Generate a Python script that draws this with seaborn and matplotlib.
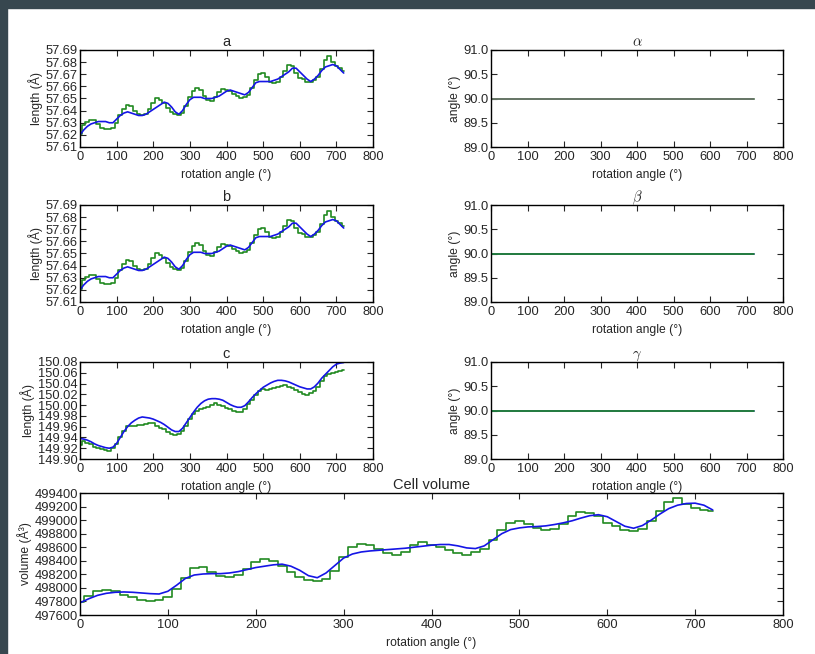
import numpy as np
import pandas as pd
import matplotlib
matplotlib.use("Agg")
import matplotlib.pyplot as plt
import seaborn as sns
from matplotlib.patches import Rectangle

# rotation angle grid (deg)
angle = list(range(0, 721, 10))

# a and b lengths (identical in the reference)
a_fit = [57.620, 57.624, 57.627, 57.629, 57.630, 57.631, 57.631, 57.631, 57.630, 57.630,
         57.633, 57.636, 57.638, 57.639, 57.638, 57.637, 57.636, 57.636, 57.637, 57.639,
         57.641, 57.643, 57.645, 57.647, 57.646, 57.643, 57.639, 57.637, 57.640, 57.645,
         57.649, 57.651, 57.651, 57.651, 57.650, 57.650, 57.650, 57.651, 57.652, 57.654,
         57.656, 57.657, 57.656, 57.655, 57.654, 57.653, 57.655, 57.659, 57.663, 57.664,
         57.664, 57.664, 57.664, 57.665, 57.666, 57.668, 57.670, 57.672, 57.675, 57.675,
         57.672, 57.669, 57.666, 57.664, 57.666, 57.669, 57.673, 57.676, 57.677, 57.678,
         57.677, 57.674, 57.671]
a_raw = [57.621, 57.628, 57.631, 57.632, 57.632, 57.629, 57.626, 57.625, 57.625, 57.626,
         57.630, 57.636, 57.641, 57.645, 57.644, 57.640, 57.637, 57.636, 57.637, 57.641,
         57.646, 57.650, 57.649, 57.646, 57.642, 57.639, 57.637, 57.636, 57.638, 57.644,
         57.651, 57.656, 57.659, 57.657, 57.652, 57.649, 57.648, 57.651, 57.655, 57.658,
         57.657, 57.656, 57.654, 57.652, 57.650, 57.651, 57.653, 57.659, 57.665, 57.670,
         57.671, 57.668, 57.664, 57.663, 57.664, 57.668, 57.673, 57.678, 57.677, 57.671,
         57.667, 57.666, 57.664, 57.664, 57.665, 57.668, 57.674, 57.682, 57.685, 57.680,
         57.677, 57.675, 57.673]

c_fit = [149.938, 149.937, 149.935, 149.932, 149.928, 149.925, 149.923, 149.921, 149.920, 149.922,
         149.929, 149.940, 149.951, 149.960, 149.967, 149.972, 149.976, 149.978, 149.977, 149.976,
         149.974, 149.971, 149.968, 149.964, 149.959, 149.954, 149.951, 149.951, 149.957, 149.967,
         149.977, 149.987, 149.996, 150.003, 150.008, 150.011, 150.012, 150.012, 150.011, 150.009,
         150.005, 150.001, 149.998, 149.996, 149.996, 149.999, 150.006, 150.014, 150.021, 150.027,
         150.033, 150.037, 150.041, 150.044, 150.046, 150.046, 150.045, 150.043, 150.040, 150.037,
         150.034, 150.032, 150.030, 150.030, 150.034, 150.041, 150.050, 150.057, 150.064, 150.071,
         150.076, 150.078, 150.079]
c_raw = [149.926, 149.933, 149.930, 149.927, 149.922, 149.920, 149.918, 149.917, 149.914, 149.920,
         149.928, 149.940, 149.952, 149.961, 149.962, 149.962, 149.963, 149.964, 149.965, 149.967,
         149.966, 149.962, 149.958, 149.955, 149.950, 149.946, 149.944, 149.946, 149.952, 149.962,
         149.975, 149.984, 149.990, 149.993, 149.995, 149.997, 150.000, 150.004, 150.001, 149.998,
         149.994, 149.993, 149.990, 149.987, 149.988, 149.993, 150.002, 150.010, 150.018, 150.026,
         150.029, 150.028, 150.030, 150.032, 150.034, 150.036, 150.038, 150.034, 150.032, 150.028,
         150.024, 150.021, 150.019, 150.022, 150.026, 150.034, 150.045, 150.054, 150.058, 150.060,
         150.062, 150.064, 150.065]

vol_fit = [497780, 497840, 497890, 497920, 497935, 497940, 497935, 497925, 497915, 497910,
           497950, 498040, 498140, 498190, 498205, 498210, 498210, 498220, 498240, 498270,
           498300, 498320, 498340, 498350, 498320, 498260, 498180, 498150, 498220, 498330,
           498440, 498500, 498530, 498545, 498555, 498565, 498575, 498585, 498600, 498615,
           498630, 498640, 498640, 498620, 498590, 498580, 498620, 498710, 498800, 498860,
           498885, 498900, 498905, 498915, 498935, 498960, 498990, 499030, 499065, 499080,
           499050, 498980, 498910, 498880, 498920, 499000, 499090, 499170, 499220, 499245,
           499250, 499220, 499150]
vol_raw = [497790, 497880, 497950, 497970, 497950, 497900, 497860, 497820, 497800, 497820,
           497860, 497980, 498150, 498300, 498310, 498240, 498180, 498160, 498190, 498280,
           498380, 498420, 498390, 498320, 498230, 498160, 498110, 498100, 498130, 498250,
           498450, 498600, 498650, 498640, 498570, 498510, 498490, 498530, 498640, 498670,
           498640, 498600, 498560, 498510, 498480, 498530, 498580, 498700, 498850, 498960,
           498990, 498950, 498880, 498850, 498870, 498950, 499060, 499120, 499110, 499060,
           498960, 498910, 498850, 498840, 498870, 498980, 499130, 499260, 499330, 499240,
           499180, 499150, 499140]

# cell angles stay at 90 deg
ang_val = [90.0] * len(angle)

sns.set_style("ticks", {"xtick.direction": "in", "ytick.direction": "in",
                        "axes.edgecolor": "black"})
plt.rcParams["font.family"] = ["Liberation Sans", "DejaVu Sans"]
plt.rcParams["mathtext.fontset"] = "cm"

fig = plt.figure(figsize=(8.15, 6.54), dpi=100)

# dark frame of the screenshot (top and left strips)
fig.add_artist(Rectangle((0, 1 - 8 / 654), 1, 8 / 654, transform=fig.transFigure,
                         color="#37474f", zorder=0))
fig.add_artist(Rectangle((0, 0), 7 / 815, 1, transform=fig.transFigure,
                         color="#37474f", zorder=0))

green = "#218a21"
blue = "#1515e6"
xlab = "rotation angle (°)"


def style(ax, title, ylabel, ylim, yticks, fmt):
    ax.set_xlim(0, 800)
    ax.set_xticks(range(0, 801, 100))
    ax.set_ylim(*ylim)
    ax.set_yticks(yticks)
    ax.set_yticklabels([fmt.format(v) for v in yticks])
    ax.tick_params(top=True, right=True, labelsize=9.3, length=4, width=0.8, pad=1.5)
    ax.tick_params(axis="x", pad=3)
    ax.set_title(title, fontsize=10.5, pad=3)
    ax.set_xlabel(xlab, fontsize=8.7, labelpad=4)
    ax.set_ylabel(ylabel, fontsize=8.7, labelpad=2)
    for s in ax.spines.values():
        s.set_linewidth(1.0)


def pair(ax, raw, fit):
    df = pd.DataFrame({"angle": angle, "raw": raw, "fit": fit})
    sns.lineplot(data=df, x="angle", y="raw", ax=ax, color=green, lw=1.2,
                 drawstyle="steps-mid")
    sns.lineplot(data=df, x="angle", y="fit", ax=ax, color=blue, lw=1.2)


W, H = 815, 654
def box(l, r, t, b):
    return [l / W, 1 - b / H, (r - l) / W, (b - t) / H]

len_ticks = [57.61 + 0.01 * i for i in range(9)]
c_ticks = [149.90 + 0.02 * i for i in range(10)]
ang_ticks = [89.0, 89.5, 90.0, 90.5, 91.0]
vol_ticks = list(range(497600, 499401, 200))

rows = [(50, 147), (205, 302), (362, 459)]
left_data = [("a", a_raw, a_fit, (57.61, 57.69), len_ticks, "{:.2f}"),
             ("b", a_raw, a_fit, (57.61, 57.69), len_ticks, "{:.2f}"),
             ("c", c_raw, c_fit, (149.90, 150.08), c_ticks, "{:.2f}")]
right_titles = [r"$\alpha$", r"$\beta$", r"$\gamma$"]

for i, (t, b) in enumerate(rows):
    title, raw, fit, ylim, yt, fmt = left_data[i]
    ax = fig.add_axes(box(80, 373, t, b))
    pair(ax, raw, fit)
    style(ax, title, "length (Å)", ylim, yt, fmt)

    ax2 = fig.add_axes(box(491, 783, t, b))
    df = pd.DataFrame({"angle": angle, "val": ang_val})
    if i == 0:
        sns.lineplot(data=df, x="angle", y="val", ax=ax2, color=green, lw=1.2)
        sns.lineplot(data=df, x="angle", y="val", ax=ax2, color="#707070", lw=1.2)
    else:
        sns.lineplot(data=df, x="angle", y="val", ax=ax2, color=blue, lw=1.2)
        sns.lineplot(data=df, x="angle", y="val", ax=ax2, color=green, lw=1.2)
    style(ax2, right_titles[i], "angle (°)", (89.0, 91.0), ang_ticks, "{:.1f}")

axv = fig.add_axes(box(80, 783, 493, 615))
pair(axv, vol_raw, vol_fit)
style(axv, "Cell volume", "volume (Å³)", (497600, 499400), vol_ticks, "{:d}")

fig.savefig("out.png", dpi=100)
